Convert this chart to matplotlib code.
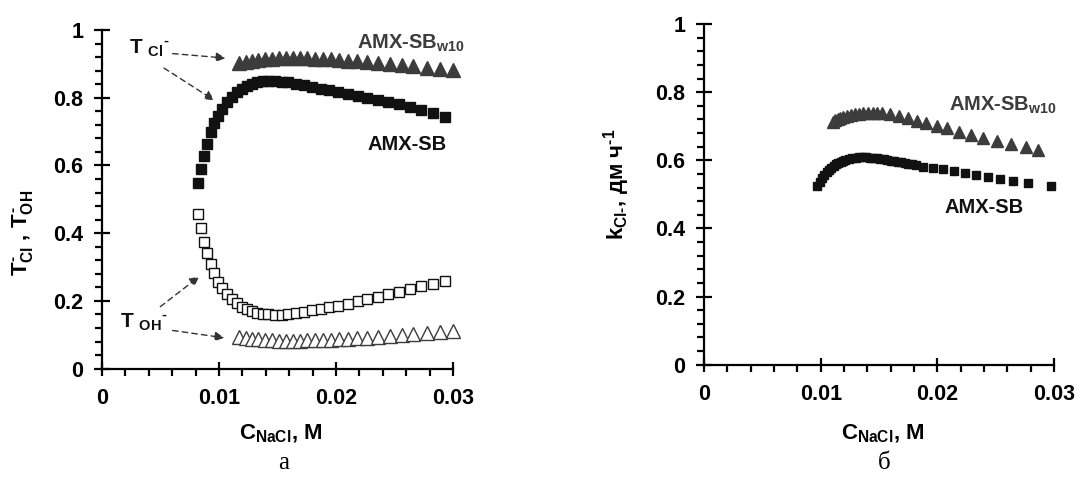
import matplotlib
matplotlib.use("Agg")
import matplotlib.pyplot as plt
from matplotlib.ticker import MultipleLocator, FuncFormatter

plt.rcParams['font.family'] = ['Liberation Sans', 'DejaVu Sans']
plt.rcParams['font.weight'] = 'bold'
plt.rcParams['axes.labelweight'] = 'bold'
plt.rcParams['mathtext.fontset'] = 'custom'
plt.rcParams['mathtext.rm'] = 'Liberation Sans:bold'
plt.rcParams['mathtext.it'] = 'Liberation Sans:bold'
plt.rcParams['mathtext.bf'] = 'Liberation Sans:bold'

#region data
# (a) transport numbers, AMX-SB
sb_c = [0.00823, 0.00849, 0.00872, 0.00895, 0.00929, 0.00957, 0.00989, 0.01023, 0.01066,
        0.01108, 0.01151, 0.01194, 0.01236, 0.01279, 0.01322, 0.01373, 0.01422, 0.01479,
        0.01536, 0.01593, 0.01658, 0.01726, 0.01798, 0.01869, 0.01943, 0.02020, 0.02105,
        0.02185, 0.02268, 0.02356, 0.02447, 0.02538, 0.02632, 0.02724, 0.02826, 0.02932]
sb_t_cl = [0.547, 0.590, 0.629, 0.662, 0.698, 0.724, 0.746, 0.766, 0.786,
           0.802, 0.816, 0.827, 0.835, 0.841, 0.845, 0.848, 0.849, 0.848,
           0.847, 0.845, 0.842, 0.838, 0.833, 0.827, 0.822, 0.816, 0.810,
           0.804, 0.798, 0.793, 0.788, 0.781, 0.772, 0.764, 0.754, 0.744]
sb_t_oh = [0.457, 0.415, 0.375, 0.341, 0.309, 0.284, 0.257, 0.237, 0.220,
           0.205, 0.193, 0.183, 0.175, 0.169, 0.165, 0.162, 0.160, 0.159,
           0.159, 0.161, 0.164, 0.168, 0.173, 0.177, 0.181, 0.186, 0.192,
           0.199, 0.206, 0.213, 0.220, 0.227, 0.235, 0.243, 0.251, 0.259]

# (a) transport numbers, AMX-SBw10
w10_c = [0.01174, 0.01228, 0.01279, 0.01336, 0.01393, 0.01450, 0.01510, 0.01570, 0.01630,
         0.01692, 0.01755, 0.01820, 0.01886, 0.01954, 0.02026, 0.02100, 0.02177, 0.02268,
         0.02362, 0.02462, 0.02561, 0.02661, 0.02775, 0.02889, 0.03003]
w10_t_cl = [0.902, 0.906, 0.909, 0.912, 0.914, 0.915, 0.916, 0.917, 0.917,
            0.917, 0.916, 0.915, 0.914, 0.913, 0.911, 0.909, 0.907, 0.905,
            0.902, 0.899, 0.896, 0.893, 0.889, 0.886, 0.882]
w10_t_oh = [0.095, 0.092, 0.089, 0.087, 0.085, 0.084, 0.083, 0.083, 0.083,
            0.083, 0.084, 0.084, 0.085, 0.086, 0.087, 0.089, 0.090, 0.092,
            0.094, 0.097, 0.099, 0.102, 0.105, 0.108, 0.111]

# (б) permeability coefficient
k_sb_c = [0.0097, 0.0099, 0.0101, 0.0103, 0.0105, 0.0107, 0.0109, 0.0111, 0.0113, 0.0115,
          0.0117, 0.0119, 0.0121, 0.0124, 0.0127, 0.0130, 0.0133, 0.0136, 0.0139, 0.0142,
          0.0145, 0.0148, 0.0151, 0.0154, 0.0157, 0.0160, 0.0163, 0.0166, 0.0169, 0.0172,
          0.0175, 0.0178, 0.0182, 0.0188, 0.0196, 0.0205, 0.0214, 0.0224, 0.0233, 0.0243,
          0.0254, 0.0265, 0.0278, 0.0297]
k_sb = [0.524, 0.536, 0.547, 0.557, 0.566, 0.572, 0.578, 0.583, 0.588, 0.592,
        0.596, 0.599, 0.601, 0.604, 0.606, 0.608, 0.609, 0.609, 0.609, 0.608,
        0.607, 0.606, 0.604, 0.603, 0.601, 0.599, 0.597, 0.596, 0.594, 0.592,
        0.590, 0.588, 0.585, 0.581, 0.578, 0.5735, 0.568, 0.562, 0.557, 0.551,
        0.545, 0.538, 0.532, 0.525]
k_w10_c = [0.01103, 0.01125, 0.01145, 0.01166, 0.01195, 0.01223, 0.01258, 0.01294, 0.01330,
           0.01366, 0.01406, 0.01446, 0.01485, 0.01523, 0.01594, 0.01674, 0.01751, 0.01823,
           0.01903, 0.01994, 0.02086, 0.02189, 0.02286, 0.02394, 0.02514, 0.02629, 0.02760,
           0.02866]
k_w10 = [0.713, 0.717, 0.720, 0.723, 0.727, 0.730, 0.733, 0.735, 0.737,
         0.738, 0.739, 0.740, 0.739, 0.738, 0.735, 0.730, 0.723, 0.716,
         0.7085, 0.701, 0.694, 0.684, 0.674, 0.665, 0.657, 0.647, 0.640,
         0.630]

x_ticks = [0, 0.01, 0.02, 0.03]
y_ticks = [0, 0.2, 0.4, 0.6, 0.8, 1]
#endregion

fig = plt.figure(figsize=(10.79, 4.8), dpi=100)
ax_a = fig.add_axes([0.0945, 0.2319, 0.3253, 0.7056])
ax_b = fig.add_axes([0.6525, 0.2402, 0.3244, 0.7098])

dark = '#111111'
grey = '#3c3c3c'


def style_axes(ax):
  ax.set_xlim(0, 0.03)
  ax.set_ylim(0, 1)
  for side in ('top', 'right'):
    ax.spines[side].set_visible(False)
  for side in ('left', 'bottom'):
    ax.spines[side].set_linewidth(1.6)
  ax.set_xticks(x_ticks)
  ax.set_yticks(y_ticks)
  ax.xaxis.set_minor_locator(MultipleLocator(0.002))
  ax.yaxis.set_minor_locator(MultipleLocator(0.04))
  fmt = FuncFormatter(lambda v, p: '%g' % round(v, 4))
  ax.xaxis.set_major_formatter(fmt)
  ax.yaxis.set_major_formatter(fmt)
  ax.tick_params(axis='x', which='major', direction='inout', length=10, width=1.6,
                 labelsize=15.5, pad=9)
  ax.tick_params(axis='y', which='major', direction='inout', length=11, width=1.6,
                 labelsize=15.5, pad=8)
  ax.tick_params(which='minor', direction='out', length=5, width=1.6)
  ax.set_xlabel(r'$C_{NaCl}$, M', fontsize=16)


style_axes(ax_a)
style_axes(ax_b)

# panel a
ax_a.plot(w10_c, w10_t_cl, ls='none', marker='^', ms=9.5, color=grey, mec=grey, clip_on=False)
ax_a.plot(sb_c, sb_t_cl, ls='none', marker='s', ms=7, color=dark, mec=dark, clip_on=False)
ax_a.plot(sb_c, sb_t_oh, ls='none', marker='s', ms=7, mfc='white', mec=dark, mew=1.0, clip_on=False)
ax_a.plot(w10_c, w10_t_oh, ls='none', marker='^', ms=9.5, mfc='white', mec=grey, mew=1.0, clip_on=False)

ax_a.set_ylabel(r'$T_{Cl}^{\text{-}}$ , $T_{OH}^{\text{-}}$', fontsize=16)
ax_a.yaxis.set_label_coords(-0.19, 0.40)
ax_a.xaxis.set_label_coords(0.51, -0.16)

arrow = dict(arrowstyle='-|>', color='#333333', lw=1.0, ls=(0, (4, 3)), mutation_scale=14)
ax_a.text(0.0023, 0.931, r'T $_{Cl}{}^{\text{-}}$', fontsize=15, color=dark, va='baseline')
ax_a.annotate('', xy=(0.0108, 0.9165), xytext=(0.0058, 0.931), arrowprops=arrow)
ax_a.annotate('', xy=(0.0098, 0.788), xytext=(0.0051, 0.892), arrowprops=arrow)
ax_a.text(0.0015, 0.12, r'T $_{OH}{}^{\text{-}}$', fontsize=15, color=dark, va='baseline')
ax_a.annotate('', xy=(0.0085, 0.277), xytext=(0.0048, 0.178), arrowprops=arrow)
ax_a.annotate('', xy=(0.0107, 0.090), xytext=(0.0058, 0.114), arrowprops=arrow)

ax_a.text(0.0218, 0.945, r'AMX-SB$_{w10}$', fontsize=14.5, color=grey, va='baseline')
ax_a.text(0.0227, 0.645, 'AMX-SB', fontsize=14.5, color=dark, va='baseline')

# panel b
ax_b.plot(k_w10_c, k_w10, ls='none', marker='^', ms=8, color=grey, mec=grey, clip_on=False)
ax_b.plot(k_sb_c, k_sb, ls='none', marker='s', ms=6, color=dark, mec=dark, clip_on=False)

ax_b.set_ylabel(r'$k_{Cl\text{-}}$, дм ч$^{\text{-}1}$', fontsize=16)
ax_b.yaxis.set_label_coords(-0.205, 0.53)
ax_b.xaxis.set_label_coords(0.51, -0.17)

ax_b.text(0.0210, 0.745, r'AMX-SB$_{w10}$', fontsize=14.5, color=grey, va='baseline')
ax_b.text(0.0206, 0.445, 'AMX-SB', fontsize=14.5, color=dark, va='baseline')

fig.text(0.263, 0.022, 'а', fontsize=18, family='Liberation Serif', weight='normal', ha='center')
fig.text(0.819, 0.022, 'б', fontsize=18, family='Liberation Serif', weight='normal', ha='center')

fig.savefig('out.png', dpi=100, facecolor='white')
